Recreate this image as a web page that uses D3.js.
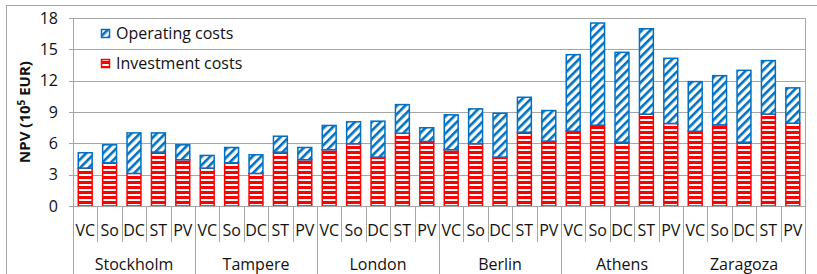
<!DOCTYPE html>
<html>
<head>
<meta charset="utf-8">
<style>
  body { margin: 0; background: #fff; }
  svg text { font-family: "Open Sans", "Noto Sans", sans-serif; fill: #111; }
</style>
</head>
<body>
<div id="container"></div>
<script src="https://d3js.org/d3.v7.min.js"></script>
<script>
var cities = ["Stockholm", "Tampere", "London", "Berlin", "Athens", "Zaragoza"];
var techs = ["VC", "So", "DC", "ST", "PV"];
var yTicks = [0, 3, 6, 9, 12, 15, 18];

// investment costs per city (VC, So, DC, ST, PV), 10^5 EUR
var investment = [
  3.63, 4.14, 3.12, 5.16, 4.43,
  3.63, 4.14, 3.12, 5.16, 4.43,
  5.39, 5.96, 4.68, 6.97, 6.18,
  5.39, 5.96, 4.68, 7.07, 6.21,
  7.16, 7.74, 6.11, 8.79, 7.90,
  7.16, 7.77, 6.11, 8.80, 7.93
];
// operating costs, stacked on top
var operating = [
  1.47, 1.72, 3.88, 1.84, 1.43,
  1.21, 1.46, 1.78, 1.52, 1.17,
  2.32, 2.10, 3.44, 2.74, 1.31,
  3.34, 3.34, 4.20, 3.34, 2.93,
  7.33, 9.78, 8.60, 8.18, 6.24,
  4.75, 4.71, 6.88, 5.12, 3.38
];

var W = 817, H = 274;
var pLeft = 73, pRight = 805, pTop = 18, pBottom = 206;

var svg = d3.select("#container").append("svg")
  .attr("width", W).attr("height", H);

// patterns
var defs = svg.append("defs");
var pRed = defs.append("pattern").attr("id", "redStripes")
  .attr("patternUnits", "userSpaceOnUse").attr("width", 10).attr("height", 5)
  .attr("y", pBottom);
pRed.append("rect").attr("width", 10).attr("height", 5).attr("fill", "#fff");
pRed.append("rect").attr("width", 10).attr("height", 3).attr("fill", "#ff0000");

var pBlue = defs.append("pattern").attr("id", "blueHatch")
  .attr("patternUnits", "userSpaceOnUse").attr("width", 6).attr("height", 6)
  .attr("patternTransform", "rotate(45)");
pBlue.append("rect").attr("width", 6).attr("height", 6).attr("fill", "#fff");
pBlue.append("rect").attr("width", 2.6).attr("height", 6).attr("fill", "#0070c0");

// outer chart frame
svg.append("rect").attr("x", 6.5).attr("y", 5.5).attr("width", W).attr("height", H)
  .attr("fill", "none").attr("stroke", "#a6a6a6");

var labels = [];
cities.forEach(function (c) { techs.forEach(function (t) { labels.push(c + "|" + t); }); });

var x = d3.scaleBand().domain(labels).range([pLeft, pRight])
  .paddingInner(0.43).paddingOuter(0.215);
var y = d3.scaleLinear().domain([0, 18]).range([pBottom, pTop]);

// gridlines
svg.append("g").selectAll("line").data(yTicks).enter().append("line")
  .attr("x1", pLeft - 4).attr("x2", pRight)
  .attr("y1", function (d) { return Math.round(y(d)) + 0.5; })
  .attr("y2", function (d) { return Math.round(y(d)) + 0.5; })
  .attr("stroke", "#a6a6a6");
svg.append("line").attr("x1", pRight + 0.5).attr("x2", pRight + 0.5)
  .attr("y1", pTop).attr("y2", pBottom).attr("stroke", "#a6a6a6");

// y axis labels
svg.append("g").selectAll("text").data(yTicks).enter().append("text")
  .attr("x", 58).attr("y", function (d) { return y(d); })
  .attr("dy", "0.36em").attr("text-anchor", "end")
  .style("font-size", "16px").text(function (d) { return d; });

svg.append("text")
  .attr("transform", "translate(30," + ((pTop + pBottom) / 2) + ") rotate(-90)")
  .attr("text-anchor", "middle").style("font-size", "15px").style("font-weight", "bold")
  .html('NPV (10<tspan dy="-5" style="font-size:10px">5</tspan><tspan dy="5"> EUR)</tspan>');

// bars
var bars = svg.append("g");
bars.selectAll("rect.inv").data(labels).enter().append("rect")
  .attr("class", "inv")
  .attr("x", function (d) { return x(d); })
  .attr("width", x.bandwidth())
  .attr("y", function (d, i) { return y(investment[i]); })
  .attr("height", function (d, i) { return y(0) - y(investment[i]); })
  .attr("fill", "url(#redStripes)").attr("stroke", "#ff0000").attr("stroke-width", 1.5);

bars.selectAll("rect.op").data(labels).enter().append("rect")
  .attr("class", "op")
  .attr("x", function (d) { return x(d); })
  .attr("width", x.bandwidth())
  .attr("y", function (d, i) { return y(investment[i] + operating[i]); })
  .attr("height", function (d, i) { return y(investment[i]) - y(investment[i] + operating[i]); })
  .attr("fill", "url(#blueHatch)").attr("stroke", "#0070c0").attr("stroke-width", 1.5);

// category axis
var step = x.step();
var axis = svg.append("g");
axis.append("line").attr("x1", pLeft).attr("x2", pRight)
  .attr("y1", pBottom + 0.5).attr("y2", pBottom + 0.5).attr("stroke", "#a6a6a6");
axis.append("line").attr("x1", pLeft + 0.5).attr("x2", pLeft + 0.5)
  .attr("y1", pTop).attr("y2", H).attr("stroke", "#a6a6a6");
axis.selectAll("line.tick").data(labels).enter().append("line")
  .attr("class", "tick")
  .attr("x1", function (d) { return Math.round(x(d) - x.paddingOuter() * step + step) + 0.5; })
  .attr("x2", function (d) { return Math.round(x(d) - x.paddingOuter() * step + step) + 0.5; })
  .attr("y1", pBottom)
  .attr("y2", function (d, i) { return (i % 5 === 4) ? H : 242; })
  .attr("stroke", "#a6a6a6");

axis.selectAll("text.sub").data(labels).enter().append("text")
  .attr("class", "sub")
  .attr("x", function (d) { return x(d) + x.bandwidth() / 2; })
  .attr("y", 230).attr("dy", "0.36em").attr("text-anchor", "middle")
  .style("font-size", "16px").text(function (d) { return d.split("|")[1]; });

axis.selectAll("text.city").data(cities).enter().append("text")
  .attr("class", "city")
  .attr("x", function (d) { return (x(d + "|VC") + x(d + "|PV") + x.bandwidth()) / 2; })
  .attr("y", 264).attr("dy", "0.36em").attr("text-anchor", "middle")
  .style("font-size", "16px").text(function (d) { return d; });

// legend
var legend = svg.append("g");
legend.append("rect").attr("x", 101.5).attr("y", 29.5).attr("width", 8).attr("height", 8)
  .attr("fill", "url(#blueHatch)").attr("stroke", "#0070c0").attr("stroke-width", 1.5);
legend.append("rect").attr("x", 101.5).attr("y", 59.5).attr("width", 8).attr("height", 8)
  .attr("fill", "url(#redStripes)").attr("stroke", "#ff0000").attr("stroke-width", 1.5);
legend.append("text").attr("x", 116).attr("y", 33).attr("dy", "0.36em")
  .style("font-size", "16px").text("Operating costs");
legend.append("text").attr("x", 116).attr("y", 63).attr("dy", "0.36em")
  .style("font-size", "16px").text("Investment costs");
</script>
</body>
</html>
